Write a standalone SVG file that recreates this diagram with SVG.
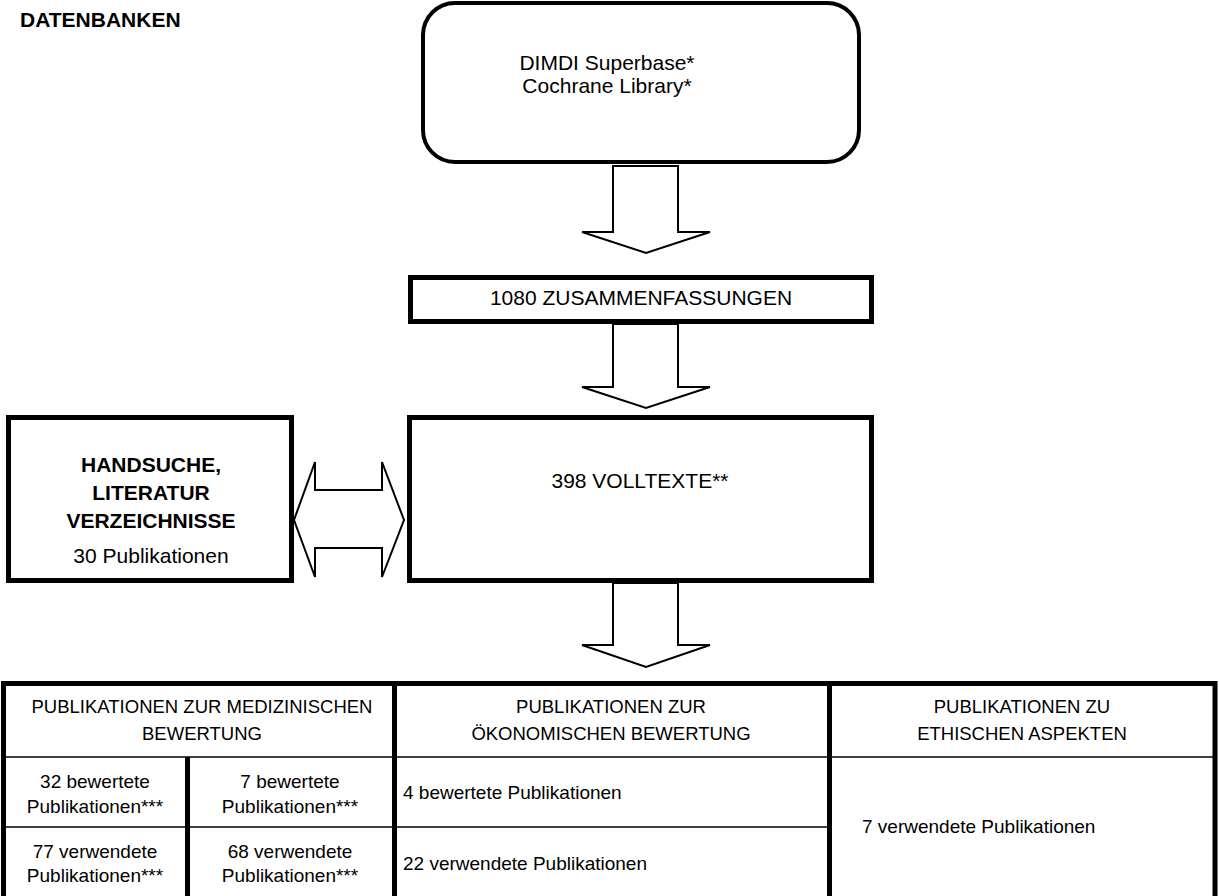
<svg xmlns="http://www.w3.org/2000/svg" width="1219" height="896" viewBox="0 0 1219 896">
<style>
text{font-family:"Liberation Sans",Arial,sans-serif;fill:#000}
.b{font-weight:bold}
.box{fill:#fff;stroke:#000;stroke-width:5}
.arr{fill:#fff;stroke:#000;stroke-width:2;stroke-linejoin:miter}
.thin{stroke:#000;stroke-width:1.5;fill:none}
.thick{stroke:#000;stroke-width:5;fill:none}
.t21{font-size:21px}
.t19{font-size:19px}
.h{font-size:18.5px}
.m{text-anchor:middle}
</style>
<rect width="1219" height="896" fill="#fff"/>
<text id="title" class="b" x="20" y="27" font-size="21">DATENBANKEN</text>
<g id="datenbanken">
<rect class="box" x="423" y="3" width="436" height="159" rx="32" ry="32" style="stroke-width:4"/>
<text class="t21 m" x="607" y="70">DIMDI Superbase*</text>
<text class="t21 m" x="607" y="93">Cochrane Library*</text>
</g>
<g id="zusammenfassungen">
<rect class="box" x="410.5" y="277.5" width="461" height="44"/>
<text class="t21 m" x="641" y="305">1080 ZUSAMMENFASSUNGEN</text>
</g>
<g id="volltexte">
<rect class="box" x="409.5" y="417.5" width="462" height="163"/>
<text class="t21 m" x="640" y="488">398 VOLLTEXTE**</text>
</g>
<g id="handsuche">
<rect class="box" x="8.5" y="417.5" width="283" height="163"/>
<text class="t21 m b" x="151" y="472">HANDSUCHE,</text>
<text class="t21 m b" x="151" y="500">LITERATUR</text>
<text class="t21 m b" x="151" y="528">VERZEICHNISSE</text>
<text class="t21 m" x="151" y="563">30 Publikationen</text>
</g>
<g id="connectors">
<polygon class="arr" points="613,166 678,166 678,232 710,232 646,253 582,232 613,232"/>
<polygon class="arr" points="613,324 678,324 678,387 710,387 646,408 582,387 613,387"/>
<polygon class="arr" points="613,583 678,583 678,645 710,645 646,667 582,645 613,645"/>
<polygon class="arr" points="294,520 315,462 315,490 382,490 382,462 404,520 382,577 382,548 315,548 315,577"/>
</g>
<g id="tabelle">
<rect class="thick" x="3.5" y="683.5" width="1211.5" height="230"/>
<line class="thin" x1="3" y1="757" x2="1215" y2="757"/>
<line class="thin" x1="3" y1="827" x2="829" y2="827"/>
<line class="thick" x1="187.5" y1="757" x2="187.5" y2="900"/>
<line class="thick" x1="394.5" y1="683" x2="394.5" y2="900"/>
<line class="thick" x1="829.5" y1="683" x2="829.5" y2="900"/>
<text class="h m" x="202" y="713">PUBLIKATIONEN ZUR MEDIZINISCHEN</text>
<text class="h m" x="202" y="740">BEWERTUNG</text>
<text class="h m" x="611" y="713">PUBLIKATIONEN ZUR</text>
<text class="h m" x="611" y="740">ÖKONOMISCHEN BEWERTUNG</text>
<text class="h m" x="1022" y="713">PUBLIKATIONEN ZU</text>
<text class="h m" x="1022" y="740">ETHISCHEN ASPEKTEN</text>
<text class="t19 m" x="95" y="788">32 bewertete</text>
<text class="t19 m" x="95" y="813">Publikationen***</text>
<text class="t19 m" x="290" y="788">7 bewertete</text>
<text class="t19 m" x="290" y="813">Publikationen***</text>
<text class="t19" x="403" y="799">4 bewertete Publikationen</text>
<text class="t19 m" x="95" y="858">77 verwendete</text>
<text class="t19 m" x="95" y="882">Publikationen***</text>
<text class="t19 m" x="290" y="858">68 verwendete</text>
<text class="t19 m" x="290" y="882">Publikationen***</text>
<text class="t19" x="403" y="870">22 verwendete Publikationen</text>
<text class="t19" x="862" y="833">7 verwendete Publikationen</text>
</g>
</svg>
